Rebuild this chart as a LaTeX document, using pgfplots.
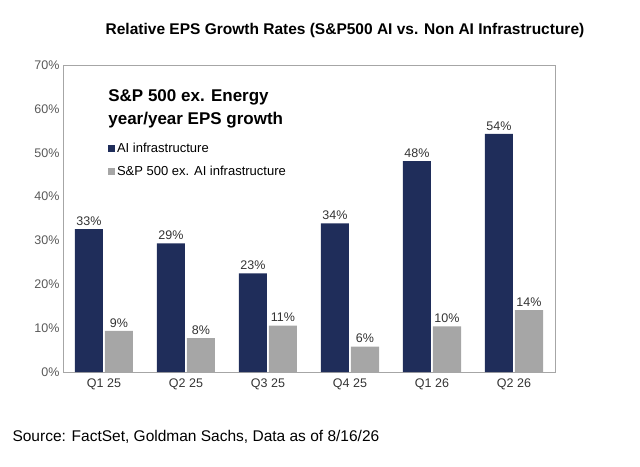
\documentclass[border=0pt]{standalone}
\usepackage{pgfplots}
\pgfplotsset{compat=1.18}
\usepackage{fontspec}
\setmainfont{Liberation Sans}
\definecolor{navy}{HTML}{1F2D5A}
\definecolor{gbar}{HTML}{A6A6A6}
\begin{document}
\begin{tikzpicture}[x=1pt,y=1pt]
\begin{axis}[name=ax,at={(0,0)},anchor=south west,
 scale only axis,width=492pt,height=307pt,
 xmin=-0.5,xmax=5.5,ymin=0,ymax=70,
 ybar=2pt,bar width=28pt,
 xtick={0,...,5},xticklabels={Q1 25,Q2 25,Q3 25,Q4 25,Q1 26,Q2 26},
 ytick={0,10,...,70},yticklabel={\pgfmathprintnumber{\tick}\%},
 /pgf/number format/assume math mode=true,
 major tick length=0pt,
 axis line style={gray!70},
 tick label style={font=\fontsize{12.5}{14}\selectfont,text=black!80},
 xticklabel style={yshift=-3pt},
 yticklabel style={text=black!65},
 nodes near coords={\pgfmathprintnumber[precision=0,fixed]{\pgfplotspointmeta}\%},
 every node near coord/.append style={font=\fontsize{12.5}{14}\selectfont,text=black!80},
 legend style={draw=none,fill=none,at={(rel axis cs:0.085,0.76)},anchor=north west,
   font=\fontsize{13}{15}\selectfont,row sep=8pt,cells={anchor=west}},
 legend image code/.code={\fill[#1] (0,-4pt) rectangle (7pt,3pt);},
 clip=false]
\addplot[fill=navy,draw=none] coordinates {(0,32.6)(1,29.3)(2,22.5)(3,33.9)(4,48.1)(5,54.3)};
\addplot[fill=gbar,draw=none] coordinates {(0,9.4)(1,7.7)(2,10.6)(3,5.8)(4,10.4)(5,14.1)};
\legend{AI infrastructure,S\&P 500 ex. AI infrastructure}
\node[anchor=west,font=\bfseries\fontsize{17}{19}\selectfont,align=left] at (rel axis cs:0.085,0.895) {S\&P 500 ex. Energy};
\node[anchor=west,font=\bfseries\fontsize{17}{19}\selectfont,align=left] at (rel axis cs:0.085,0.82) {year/year EPS growth};
\end{axis}
\node[font=\bfseries\fontsize{15.5}{17}\selectfont] at (282,342) {Relative EPS Growth Rates (S\&P500 AI vs. Non AI Infrastructure)};
\node[anchor=west,font=\fontsize{15.5}{17}\selectfont] at (-54,-65) {Source: FactSet, Goldman Sachs, Data as of 8/16/26};
\path[use as bounding box] (-63,-94) rectangle (577,372);
\end{tikzpicture}
\end{document}
